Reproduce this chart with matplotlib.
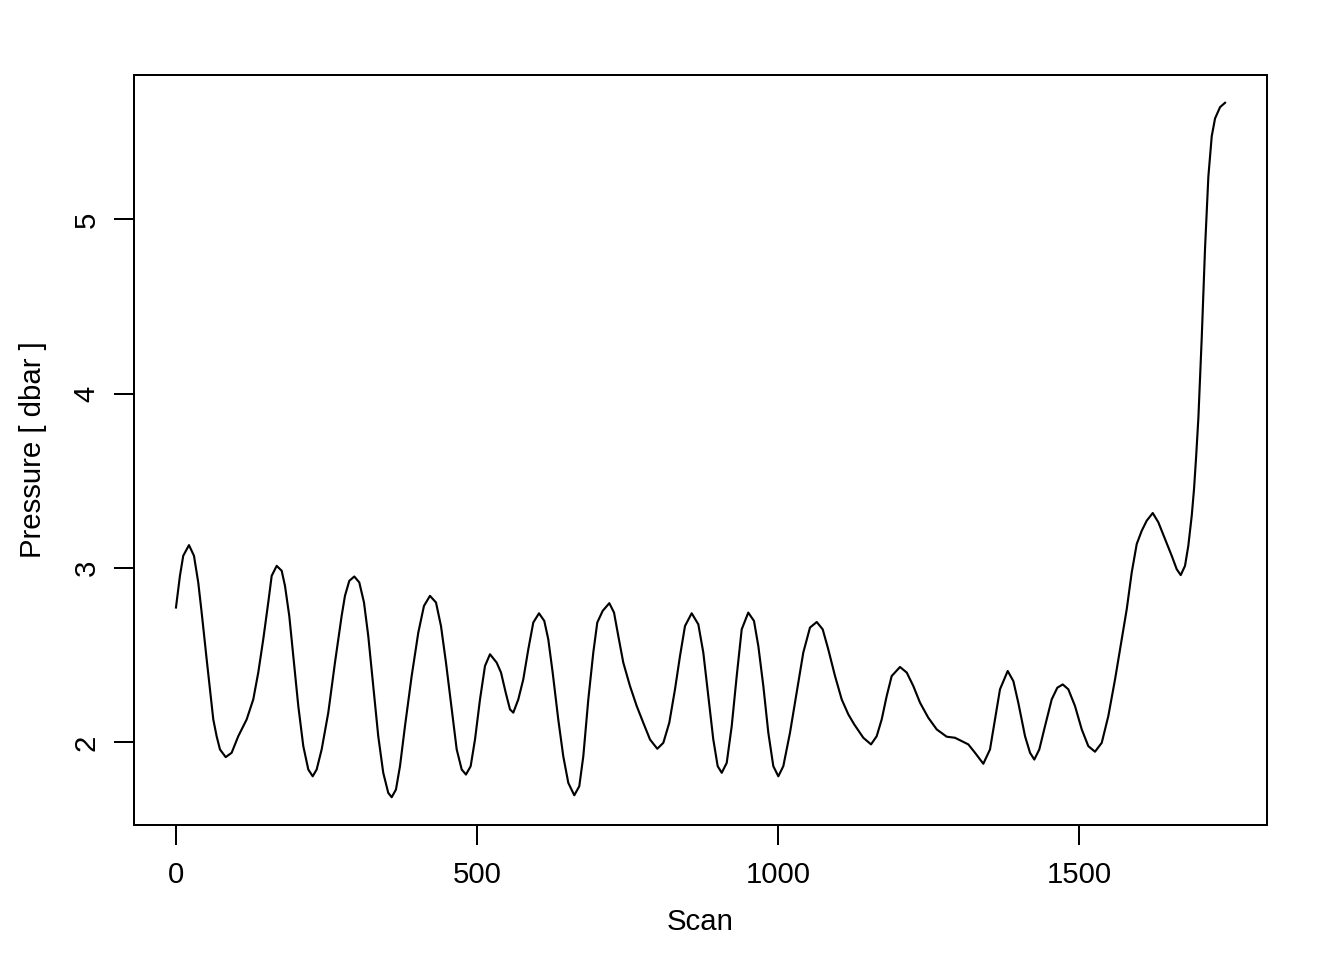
import matplotlib
matplotlib.use("Agg")
import matplotlib.pyplot as plt

plt.rcParams['font.family'] = ['Liberation Sans', 'DejaVu Sans']

scan = [0.0, 6.6, 12.1, 21.6, 29.9, 37.0, 42.7, 51.0, 62.0, 67.6,
        73.1, 82.6, 92.5, 103.5, 117.4, 128.4, 136.7, 145.0, 153.3, 159.0,
        167.3, 175.6, 181.1, 188.2, 194.8, 203.2, 211.5, 219.8, 227.1, 233.7,
        242.0, 253.0, 264.1, 275.2, 280.7, 287.9, 296.2, 304.5, 312.3, 319.4,
        327.7, 336.0, 344.3, 352.6, 358.3, 365.4, 372.1, 380.4, 391.5, 402.5,
        411.9, 421.9, 431.9, 440.2, 448.5, 458.0, 466.3, 474.6, 481.7, 489.5,
        496.7, 505.0, 513.3, 521.6, 532.7, 539.9, 547.7, 554.8, 560.3, 568.6,
        576.9, 585.2, 593.5, 603.0, 611.8, 618.4, 625.7, 635.0, 643.3, 651.7,
        661.6, 669.9, 676.6, 684.9, 693.2, 699.8, 708.8, 719.8, 727.6, 734.7,
        743.0, 754.1, 765.3, 776.2, 787.4, 799.5, 809.5, 819.4, 828.9, 837.2,
        845.5, 856.6, 867.6, 875.9, 884.2, 892.5, 899.8, 906.5, 914.8, 923.1,
        931.4, 939.7, 950.6, 960.1, 967.3, 975.6, 983.9, 992.2, 1000.5, 1008.8,
        1019.9, 1031.0, 1042.0, 1053.1, 1064.3, 1074.2, 1083.5, 1094.7, 1105.8, 1116.8,
        1126.7, 1141.7, 1154.5, 1163.9, 1172.2, 1180.5, 1188.8, 1202.6, 1213.8, 1224.7,
        1235.9, 1249.6, 1263.6, 1280.2, 1294.0, 1305.1, 1316.1, 1327.2, 1341.0, 1352.1,
        1360.4, 1368.7, 1381.5, 1390.9, 1399.1, 1410.3, 1418.6, 1425.7, 1434.0, 1443.5,
        1454.6, 1463.9, 1472.9, 1482.2, 1493.3, 1504.5, 1515.4, 1526.5, 1537.7, 1548.6,
        1559.8, 1570.9, 1579.2, 1587.5, 1595.8, 1604.1, 1612.4, 1622.4, 1631.7, 1642.8,
        1653.9, 1662.2, 1668.9, 1676.0, 1681.5, 1687.2, 1691.0, 1694.5, 1698.2, 1703.8,
        1709.3, 1714.8, 1720.4, 1725.9, 1734.2, 1742.5]

pressure = [2.774, 2.956, 3.071, 3.132, 3.071, 2.918, 2.745, 2.477, 2.132, 2.035,
            1.960, 1.916, 1.941, 2.036, 2.132, 2.247, 2.401, 2.592, 2.803, 2.956,
            3.013, 2.985, 2.898, 2.726, 2.496, 2.209, 1.979, 1.845, 1.806, 1.845,
            1.960, 2.171, 2.458, 2.726, 2.841, 2.927, 2.952, 2.918, 2.803, 2.611,
            2.324, 2.036, 1.826, 1.711, 1.686, 1.730, 1.864, 2.094, 2.381, 2.630,
            2.783, 2.841, 2.803, 2.668, 2.458, 2.190, 1.960, 1.845, 1.816, 1.864,
            2.017, 2.247, 2.439, 2.506, 2.458, 2.401, 2.286, 2.190, 2.171, 2.247,
            2.362, 2.534, 2.688, 2.741, 2.697, 2.592, 2.401, 2.132, 1.921, 1.768,
            1.697, 1.749, 1.921, 2.247, 2.516, 2.688, 2.755, 2.799, 2.745, 2.611,
            2.458, 2.324, 2.209, 2.113, 2.017, 1.964, 1.998, 2.113, 2.305, 2.496,
            2.668, 2.741, 2.678, 2.516, 2.266, 2.017, 1.864, 1.826, 1.883, 2.094,
            2.381, 2.649, 2.745, 2.697, 2.553, 2.324, 2.056, 1.864, 1.806, 1.864,
            2.056, 2.286, 2.516, 2.659, 2.691, 2.649, 2.534, 2.381, 2.247, 2.161,
            2.103, 2.027, 1.989, 2.036, 2.132, 2.266, 2.381, 2.433, 2.401, 2.324,
            2.228, 2.142, 2.075, 2.033, 2.027, 2.008, 1.989, 1.941, 1.878, 1.960,
            2.132, 2.305, 2.410, 2.352, 2.228, 2.036, 1.941, 1.902, 1.960, 2.094,
            2.247, 2.314, 2.333, 2.305, 2.209, 2.075, 1.979, 1.947, 1.998, 2.151,
            2.362, 2.592, 2.764, 2.975, 3.138, 3.214, 3.272, 3.316, 3.263, 3.167,
            3.071, 2.994, 2.960, 3.013, 3.128, 3.301, 3.454, 3.640, 3.860, 4.322,
            4.836, 5.246, 5.477, 5.579, 5.644, 5.669]

xticks = [0, 500, 1000, 1500]
yticks = [2, 3, 4, 5]

fig = plt.figure(figsize=(7, 5), dpi=192)
ax = fig.add_axes([134/1344, 1 - 825/960, (1267-134)/1344, (825-75)/960])
ax.plot(scan, pressure, color='black', linewidth=0.8,
        solid_joinstyle='round', antialiased=True)
ax.margins(x=0.04, y=0.04)

ax.set_xticks(xticks)
ax.set_yticks(yticks)
ax.set_xticklabels([str(t) for t in xticks])
ax.set_yticklabels([str(t) for t in yticks], rotation=90, va='center')
ax.tick_params(direction='out', length=7.5, width=0.75, labelsize=11, pad=6)
ax.tick_params(axis='y', pad=5)
for s in ax.spines.values():
    s.set_linewidth(0.75)

fig.text((134+1267)/2/1344, 1 - 922/960, 'Scan', ha='center', va='center', fontsize=11)
fig.text(33/1344, 1 - 450/960, 'Pressure [ dbar ]', ha='center', va='center',
         rotation=90, fontsize=11)

fig.savefig('out.png', dpi=192)
